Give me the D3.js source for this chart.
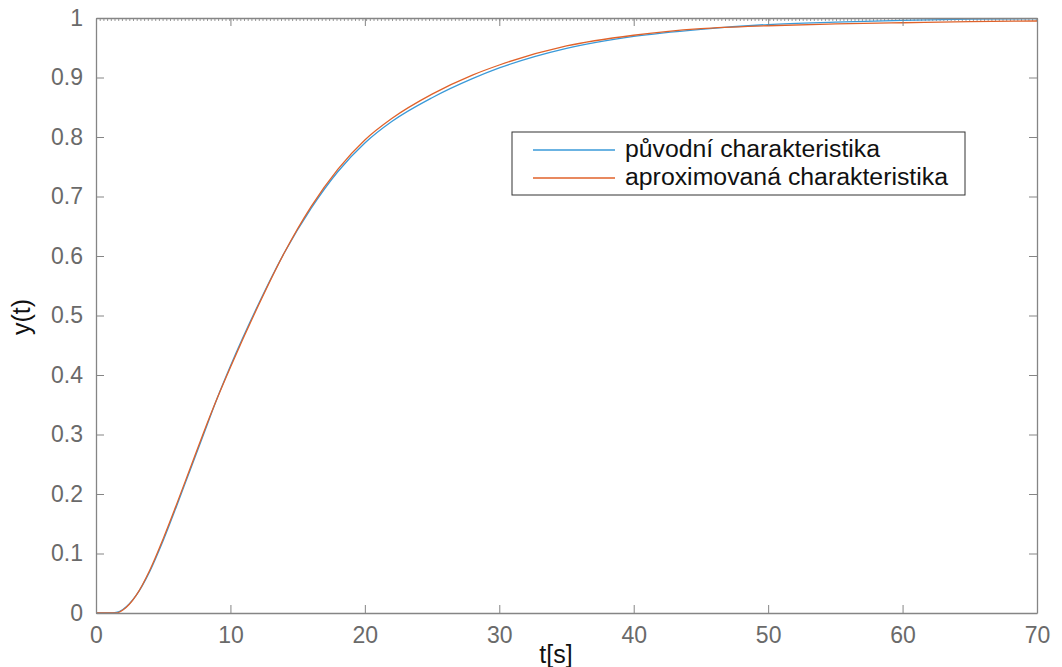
<!DOCTYPE html>
<meta charset="utf-8">
<style>
  body { margin: 0; background: #fff; }
  text { font-family: "Liberation Sans", Arial, sans-serif; }
</style>
<svg width="1062" height="667"></svg>
<script src="https://d3js.org/d3.v7.min.js"></script>
<script>
// step response samples
var time = [0, 1, 1.5, 2, 3, 4, 5, 6, 7, 8, 9, 10, 12, 14, 16, 18, 20, 22, 25, 28, 30, 35, 40, 45, 50, 55, 60, 65, 70]
var original = [0, 0, 0.001, 0.006, 0.03, 0.07, 0.122, 0.18, 0.24, 0.3, 0.36, 0.415, 0.515, 0.605, 0.68, 0.742, 0.79, 0.826, 0.866, 0.898, 0.916, 0.949, 0.969, 0.981, 0.989, 0.993, 0.996, 0.998, 0.999]
var approx = [0, 0, 0, 0.005, 0.03, 0.072, 0.125, 0.183, 0.243, 0.303, 0.36, 0.413, 0.513, 0.605, 0.683, 0.746, 0.795, 0.831, 0.872, 0.904, 0.921, 0.953, 0.971, 0.982, 0.987, 0.99, 0.992, 0.994, 0.995]
var xTicks = [0, 10, 20, 30, 40, 50, 60, 70]
var yTicks = [0, 0.1, 0.2, 0.3, 0.4, 0.5, 0.6, 0.7, 0.8, 0.9, 1]
var seriesNames = ["původní charakteristika", "aproximovaná charakteristika"]
var seriesColors = ["#3a9ad9", "#e0622a"]

var svg = d3.select("svg")
var plotL = 96, plotR = 1037, plotT = 18, plotB = 613
var x = d3.scaleLinear().domain([0, 70]).range([plotL, plotR])
var y = d3.scaleLinear().domain([0, 1]).range([plotB, plotT])

var axisColor = "#858585"
var labelColor = "#6a6a6a"

svg.append("clipPath").attr("id", "clip")
  .append("rect").attr("x", plotL).attr("y", plotT - 1).attr("width", plotR - plotL).attr("height", plotB - plotT + 1)

// dotted steady-state line along the top
svg.append("line")
  .attr("x1", plotL).attr("x2", plotR)
  .attr("y1", y(1) + 1.5).attr("y2", y(1) + 1.5)
  .attr("stroke", "#999").attr("stroke-width", 3)
  .attr("stroke-dasharray", "1,2.7")

// curves
var line = d3.line().x(function (d) { return x(d[0]) }).y(function (d) { return y(d[1]) }).curve(d3.curveMonotoneX)
var series = [original, approx]
series.forEach(function (vals, i) {
  svg.append("path")
    .datum(time.map(function (t, j) { return [t, vals[j]] }))
    .attr("clip-path", "url(#clip)")
    .attr("fill", "none")
    .attr("stroke", seriesColors[i])
    .attr("stroke-width", 1.3)
    .attr("d", line)
})

// axes: ticks inward on all four sides
var xb = svg.append("g").attr("transform", "translate(0," + plotB + ")")
  .call(d3.axisBottom(x).tickValues(xTicks).tickSizeInner(-8).tickSizeOuter(0).tickPadding(14).tickFormat(d3.format("d")))
var xt = svg.append("g").attr("transform", "translate(0," + plotT + ")")
  .call(d3.axisTop(x).tickValues(xTicks).tickSizeInner(-8).tickSizeOuter(0).tickFormat(""))
var yl = svg.append("g").attr("transform", "translate(" + plotL + ",0)")
  .call(d3.axisLeft(y).tickValues(yTicks).tickSizeInner(-8).tickSizeOuter(0).tickPadding(13)
    .tickFormat(function (d) { return d === 0 || d === 1 ? d : d3.format(".1f")(d) }))
var yr = svg.append("g").attr("transform", "translate(" + plotR + ",0)")
  .call(d3.axisRight(y).tickValues(yTicks).tickSizeInner(-8).tickSizeOuter(0).tickFormat(""))

;[xb, xt, yl, yr].forEach(function (g) {
  g.select(".domain").attr("stroke", axisColor).attr("stroke-width", 1.3)
  g.selectAll(".tick line").attr("stroke", axisColor)
  g.selectAll(".tick text").attr("fill", labelColor).style("font-size", "23px").style("font-family", "'Liberation Sans', Arial, sans-serif")
})

// axis labels
svg.append("text")
  .attr("x", 556).attr("y", 663)
  .attr("text-anchor", "middle")
  .style("font-size", "25px").attr("fill", "#111")
  .text("t[s]")
svg.append("text")
  .attr("transform", "translate(30,317) rotate(-90)")
  .attr("text-anchor", "middle")
  .style("font-size", "25px").attr("fill", "#111")
  .text("y(t)")

// legend
var legendWidths = [255, 323]
var lg = svg.append("g")
lg.append("rect")
  .attr("x", 512).attr("y", 132).attr("width", 453).attr("height", 63)
  .attr("fill", "#fff").attr("stroke", "#333").attr("stroke-width", 1)
seriesNames.forEach(function (name, i) {
  var ly = 150 + i * 28
  lg.append("line")
    .attr("x1", 533).attr("x2", 615).attr("y1", ly).attr("y2", ly)
    .attr("stroke", seriesColors[i]).attr("stroke-width", 1.3)
  lg.append("text")
    .attr("x", 625).attr("y", ly + 7)
    .attr("textLength", legendWidths[i]).attr("lengthAdjust", "spacingAndGlyphs")
    .style("font-size", "23px").attr("fill", "#111")
    .text(name)
})
</script>
